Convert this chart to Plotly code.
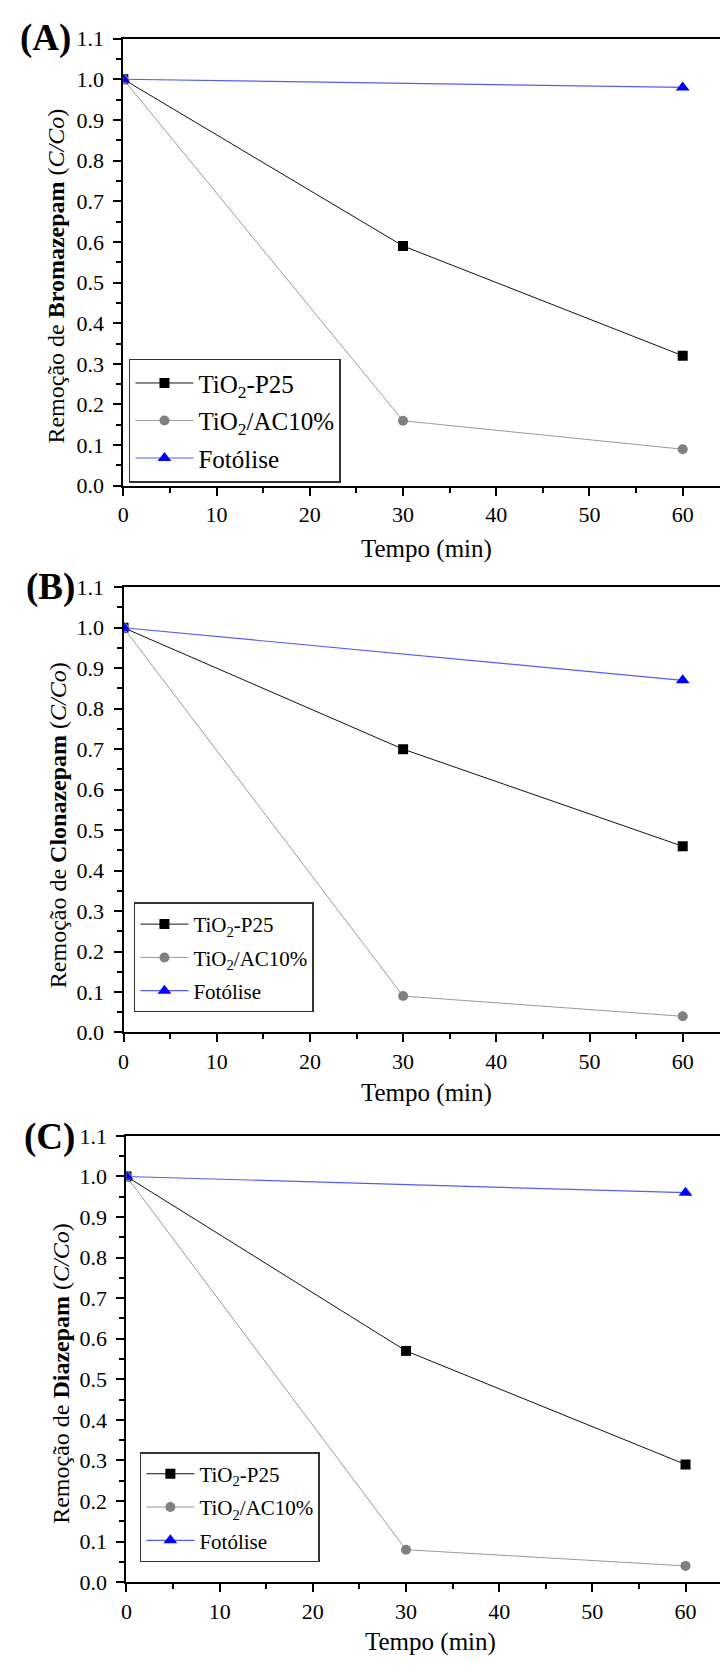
import plotly.graph_objects as go

W, H = 720, 1670

time = [0, 30, 60]
time_fot = [0, 60]

# Panel A - Bromazepam
a_p25 = [1.00, 0.59, 0.32]
a_ac10 = [1.00, 0.16, 0.09]
a_fot = [1.00, 0.98]
# Panel B - Clonazepam
b_p25 = [1.00, 0.70, 0.46]
b_ac10 = [1.00, 0.09, 0.04]
b_fot = [1.00, 0.87]
# Panel C - Diazepam
c_p25 = [1.00, 0.57, 0.29]
c_ac10 = [1.00, 0.08, 0.04]
c_fot = [1.00, 0.96]

series_names = ["TiO<sub>2</sub>-P25", "TiO<sub>2</sub>/AC10%", "Fotólise"]
drugs = ["Bromazepam", "Clonazepam", "Diazepam"]
panel_labels = ["(A)", "(B)", "(C)"]

FONT = "Liberation Serif, Times New Roman, serif"

def py(p):
    return 1 - p / H

def px(p):
    return p / W

panels = [
    dict(p25=a_p25, ac=a_ac10, fot=a_fot, top=27, bot=481, left=118.3, xmax=64.0,
         leg=(124, 352, 25, 58, 2), ytitle=(50, 268), xtitle=(424, 545), lab=(40, 26)),
    dict(p25=b_p25, ac=b_ac10, fot=b_fot, top=584, bot=1036, left=118.5, xmax=64.0,
         leg=(129, 904, 21, 48, 3), ytitle=(52, 826), xtitle=(424, 1097), lab=(45, 584)),
    dict(p25=c_p25, ac=c_ac10, fot=c_fot, top=1141, bot=1594, left=121.5, xmax=63.7,
         leg=(135, 1462, 21, 48, 3), ytitle=(56, 1382), xtitle=(428, 1655), lab=(44, 1142)),
]

fig = go.Figure()
annotations = []
layout = {}

for i, p in enumerate(panels):
    n = i + 1
    xa = "x" if n == 1 else f"x{n}"
    ya = "y" if n == 1 else f"y{n}"
    lg = "legend" if n == 1 else f"legend{n}"
    fig.add_trace(go.Scatter(x=time, y=p["p25"], mode="lines+markers", name=series_names[0],
                             line=dict(color="#111111", width=1),
                             marker=dict(symbol="square", size=10, color="#000000"),
                             xaxis=xa, yaxis=ya, legend=lg, legendgroup=f"p25_{n}"))
    fig.add_trace(go.Scatter(x=time, y=p["ac"], mode="lines+markers", name=series_names[1],
                             line=dict(color="#9a9a9a", width=1),
                             marker=dict(symbol="circle", size=10, color="#808080"),
                             xaxis=xa, yaxis=ya, legend=lg, legendgroup=f"ac_{n}"))
    fig.add_trace(go.Scatter(x=time_fot, y=p["fot"], mode="lines+markers", name=series_names[2],
                             line=dict(color="#5a5aee", width=1.2),
                             marker=dict(symbol="triangle-up", size=12, color="#0000ff"),
                             xaxis=xa, yaxis=ya, legend=lg, legendgroup=f"fot_{n}"))

    xkey = "xaxis" if n == 1 else f"xaxis{n}"
    ykey = "yaxis" if n == 1 else f"yaxis{n}"
    layout[xkey] = dict(
        domain=[px(p["left"]), 1], anchor=ya, range=[0, p["xmax"]],
        tickmode="linear", tick0=0, dtick=10,
        ticks="outside", ticklen=8, tickwidth=2, tickcolor="#000",
        minor=dict(dtick=5, ticks="outside", ticklen=5, tickwidth=2, tickcolor="#000"),
        showline=True, linecolor="#000", linewidth=2, mirror=True,
        showgrid=False, zeroline=False,
        tickfont=dict(family=FONT, size=22, color="#000"),
    )
    layout[ykey] = dict(
        domain=[py(p["bot"]), py(p["top"])], anchor=xa, range=[0, 1.1],
        tickmode="linear", tick0=0, dtick=0.1, tickformat=".1f",
        ticks="outside", ticklen=8, tickwidth=2, tickcolor="#000",
        minor=dict(dtick=0.05, ticks="outside", ticklen=5, tickwidth=2, tickcolor="#000"),
        showline=True, linecolor="#000", linewidth=2, mirror=False,
        showgrid=False, zeroline=False, ticklabelstandoff=5,
        tickfont=dict(family=FONT, size=22, color="#000"),
    )
    lx, ly, lfs, iw, gap = p["leg"]
    layout[lg] = dict(
        x=px(lx), y=py(ly), xanchor="left", yanchor="top",
        bgcolor="#ffffff", bordercolor="#333333", borderwidth=1.5,
        font=dict(family=FONT, size=lfs, color="#000"),
        itemwidth=iw, tracegroupgap=gap,
    )
    tx, ty = p["ytitle"]
    annotations.append(dict(
        text=f"Remoção de <b>{drugs[i]}</b> (<i>C/Co</i>)",
        x=px(tx), y=py(ty), xref="paper", yref="paper",
        xanchor="center", yanchor="middle", textangle=-90, showarrow=False,
        font=dict(family=FONT, size=24, color="#000"),
    ))
    xx, xy = p["xtitle"]
    annotations.append(dict(
        text="Tempo (min)", x=px(xx), y=py(xy), xref="paper", yref="paper",
        xanchor="center", yanchor="middle", showarrow=False,
        font=dict(family=FONT, size=25, color="#000"),
    ))
    lbx, lby = p["lab"]
    annotations.append(dict(
        text=f"<b>{panel_labels[i]}</b>", x=px(lbx), y=py(lby), xref="paper", yref="paper",
        xanchor="center", yanchor="middle", showarrow=False,
        font=dict(family=FONT, size=37, color="#000"),
    ))

fig.update_layout(
    width=W, height=H, margin=dict(l=0, r=0, t=0, b=0),
    paper_bgcolor="#ffffff", plot_bgcolor="#ffffff",
    font=dict(family=FONT, size=22, color="#000"),
    showlegend=True, annotations=annotations, **layout,
)

fig.write_html("out.html")
